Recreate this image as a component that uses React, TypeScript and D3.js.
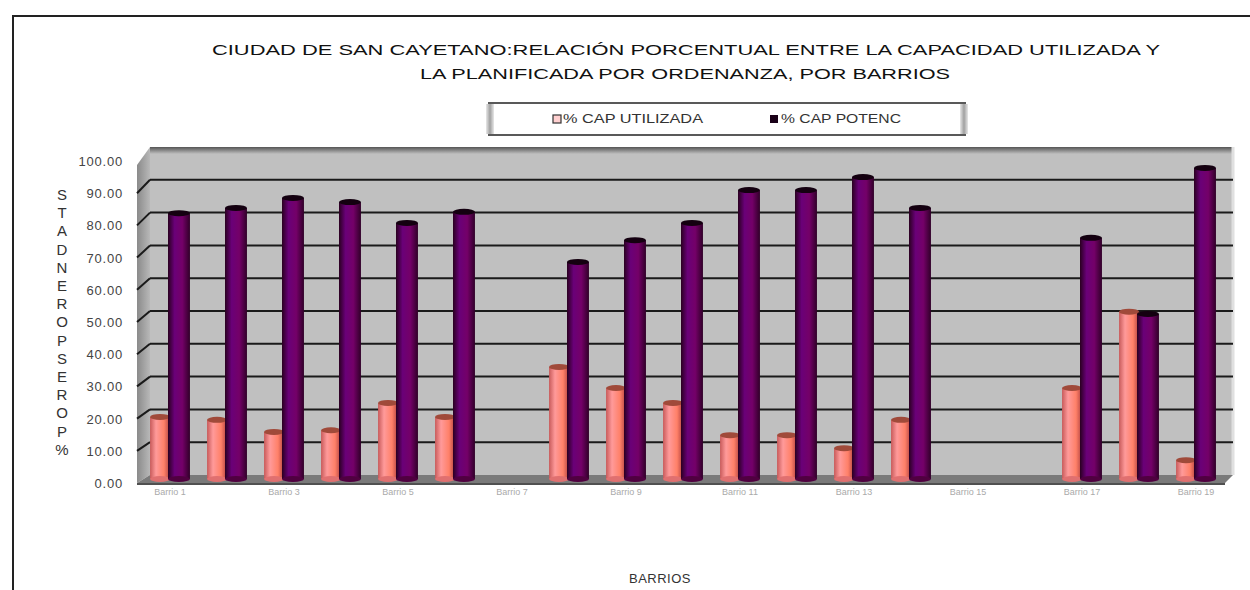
import * as d3 from "d3";

// barrios (x axis labels are illegible in the source, placeholders)
const barrios = [
  "Barrio 1", "Barrio 2", "Barrio 3", "Barrio 4", "Barrio 5", "Barrio 6", "Barrio 7",
  "Barrio 8", "Barrio 9", "Barrio 10", "Barrio 11", "Barrio 12", "Barrio 13", "Barrio 14",
  "Barrio 15", "Barrio 16", "Barrio 17", "Barrio 18", "Barrio 19",
];
const capUtilizada = [19.1, 18.2, 14.5, 15.0, 23.4, 19.1, 0, 34.5, 28.0, 23.4, 13.5, 13.5, 9.5, 18.2, 0, 0, 28.0, 51.5, 5.8];
const capPotencial = [81.8, 83.4, 86.5, 85.2, 78.8, 82.2, 0, 66.8, 73.5, 78.8, 88.9, 88.9, 92.9, 83.4, 0, 0, 74.2, 50.8, 95.7];
const yTicks = [0, 10, 20, 30, 40, 50, 60, 70, 80, 90, 100];
const seriesNames = ["% CAP UTILIZADA", "% CAP POTENC"];
const yTitleLetters = ["S", "T", "A", "D", "N", "E", "R", "O", "P", "S", "E", "R", "O", "P", "%"];
const titleLines = [
  "CIUDAD DE SAN CAYETANO:RELACIÓN  PORCENTUAL  ENTRE  LA CAPACIDAD UTILIZADA Y",
  "LA PLANIFICADA POR ORDENANZA,  POR BARRIOS",
];

const W = 1250;
const H = 590;

// three depths of the 3D box: front edge (axis labels), middle (bars), back wall (grid)
const yFront = d3.scaleLinear().domain([0, 100]).range([483, 161]);
const yMid = d3.scaleLinear().domain([0, 100]).range([479, 154]);
const yBack = d3.scaleLinear().domain([0, 100]).range([475, 147]);

const x = d3.scaleBand().domain(barrios).range([141.5, 1224.5]).paddingInner(0.3).paddingOuter(0.15);
const xs = d3.scaleBand().domain(["u", "p"]).range([0, x.bandwidth()]);

const wallLeft = 150;
const wallRight = 1233;
const sideLeft = 137;

function Cylinder({ x0, w, v, grad, cap, base }) {
  const top = yMid(v);
  const bottom = yMid(0);
  const ry = 3;
  return (
    <g>
      <rect x={x0} y={top} width={w} height={bottom - top} fill={`url(#${grad})`} />
      <ellipse cx={x0 + w / 2} cy={bottom} rx={w / 2} ry={ry} fill={base} />
      <ellipse cx={x0 + w / 2} cy={top} rx={w / 2} ry={ry} fill={cap} />
    </g>
  );
}

export default function App() {
  const font = "'Liberation Sans', Arial, sans-serif";
  return (
    <svg width={W} height={H} style={{ position: "absolute", left: 0, top: 0, background: "#fff" }} fontFamily={font}>
      <defs>
        <linearGradient id="gPink" x1="0" x2="1" y1="0" y2="0">
          <stop offset="0" stopColor="#c85a5a" />
          <stop offset="0.3" stopColor="#ff9a9a" />
          <stop offset="0.7" stopColor="#ff8068" />
          <stop offset="1" stopColor="#b04040" />
        </linearGradient>
        <linearGradient id="gPurple" x1="0" x2="1" y1="0" y2="0">
          <stop offset="0" stopColor="#2a0020" />
          <stop offset="0.3" stopColor="#6a0078" />
          <stop offset="0.65" stopColor="#740068" />
          <stop offset="1" stopColor="#300028" />
        </linearGradient>
        <linearGradient id="gSide" x1="0" x2="1" y1="0" y2="0">
          <stop offset="0" stopColor="#8a8a8a" />
          <stop offset="1" stopColor="#b8b8b8" />
        </linearGradient>
        <linearGradient id="gTop" x1="0" x2="0" y1="0" y2="1">
          <stop offset="0" stopColor="#555" />
          <stop offset="1" stopColor="#c0c0c0" />
        </linearGradient>
        <linearGradient id="gLegSide" x1="0" x2="1" y1="0" y2="0">
          <stop offset="0" stopColor="#e8e8e8" />
          <stop offset="0.5" stopColor="#a0a0a0" />
          <stop offset="1" stopColor="#e8e8e8" />
        </linearGradient>
      </defs>

      {/* outer chart frame */}
      <rect x={13} y={16} width={W} height={H} fill="#fff" stroke="#222" strokeWidth={2} />

      {/* title */}
      {titleLines.map((t, i) => (
        <text
          key={i}
          x={i === 0 ? 212 : 420}
          y={i === 0 ? 55 : 79}
          fontSize={15}
          fill="#111"
          textLength={i === 0 ? 948 : 530}
          lengthAdjust="spacingAndGlyphs"
        >
          {t}
        </text>
      ))}

      {/* legend */}
      <g>
        <rect x={488} y={103} width={478} height={32} fill="#fff" />
        <line x1={488} x2={966} y1={103} y2={103} stroke="#222" strokeWidth={1.5} />
        <line x1={488} x2={966} y1={135} y2={135} stroke="#222" strokeWidth={1.5} />
        <rect x={486} y={104} width={8} height={30} fill="url(#gLegSide)" />
        <rect x={960} y={104} width={8} height={30} fill="url(#gLegSide)" />
        <rect x={553} y={115} width={8} height={8} fill="#ffd0d0" stroke="#333" strokeWidth={1.2} />
        <text x={563} y={123} fontSize={12} fill="#333" textLength={140} lengthAdjust="spacingAndGlyphs">
          {seriesNames[0]}
        </text>
        <rect x={770} y={115} width={8} height={8} fill="#1a0018" />
        <text x={781} y={123} fontSize={12} fill="#333" textLength={120} lengthAdjust="spacingAndGlyphs">
          {seriesNames[1]}
        </text>
      </g>

      {/* back wall */}
      <rect x={wallLeft} y={yBack(100)} width={wallRight - wallLeft} height={yBack(0) - yBack(100)} fill="#c0c0c0" />
      <rect x={wallLeft} y={yBack(100)} width={wallRight - wallLeft} height={7} fill="url(#gTop)" />
      <line x1={wallRight} x2={wallRight} y1={yBack(100)} y2={yBack(0)} stroke="#e0e0e0" strokeWidth={3} />

      {/* side wall */}
      <polygon
        points={`${sideLeft},${yFront(0)} ${wallLeft},${yBack(0)} ${wallLeft},${yBack(100)} ${sideLeft},${yFront(100) + 4}`}
        fill="url(#gSide)"
      />

      {/* grid lines on back and side wall */}
      {yTicks.slice(1, -1).map((t) => (
        <g key={t}>
          <line x1={wallLeft} x2={wallRight} y1={yBack(t)} y2={yBack(t)} stroke="#1a1a1a" strokeWidth={2} />
          <line x1={sideLeft} x2={wallLeft} y1={yFront(t)} y2={yBack(t)} stroke="#1a1a1a" strokeWidth={2} />
        </g>
      ))}

      {/* floor */}
      <polygon
        points={`${sideLeft},${yFront(0)} ${wallLeft},${yBack(0)} ${wallRight},${yBack(0)} ${wallRight - 8},${yFront(0)}`}
        fill="#7a7a7a"
      />
      <line x1={sideLeft} x2={wallRight - 8} y1={yFront(0) + 1} y2={yFront(0) + 1} stroke="#505050" strokeWidth={2} />

      {/* bars */}
      {barrios.map((b, i) => {
        const x0 = x(b);
        return (
          <g key={b}>
            {capUtilizada[i] > 0 && (
              <Cylinder x0={x0 + xs("u")} w={xs.bandwidth()} v={capUtilizada[i]} grad="gPink" cap="#a04a3a" base="#e07070" />
            )}
            {capPotencial[i] > 0 && (
              <Cylinder x0={x0 + xs("p") - 2} w={xs.bandwidth() + 2} v={capPotencial[i]} grad="gPurple" cap="#140010" base="#500040" />
            )}
          </g>
        );
      })}

      {/* y axis tick labels */}
      {yTicks.map((t) => (
        <text key={t} x={123} y={yFront(t) + 5} fontSize={13} fill="#444" textAnchor="end" letterSpacing={0.8}>
          {t.toFixed(2)}
        </text>
      ))}

      {/* y axis title, stacked letters */}
      {yTitleLetters.map((c, i) => (
        <text key={i} x={62} y={200 + i * 18.2} fontSize={15} fill="#333" textAnchor="middle">
          {c}
        </text>
      ))}

      {/* x axis labels (every other category) */}
      {barrios.map((b, i) =>
        i % 2 === 0 ? (
          <text key={b} x={x(b) + x.bandwidth() / 2} y={495} fontSize={9} fill="#aaa" textAnchor="middle">
            {b}
          </text>
        ) : null
      )}

      {/* x axis title */}
      <text x={660} y={583} fontSize={13} fill="#333" textAnchor="middle" letterSpacing={0.5}>
        BARRIOS
      </text>
    </svg>
  );
}
